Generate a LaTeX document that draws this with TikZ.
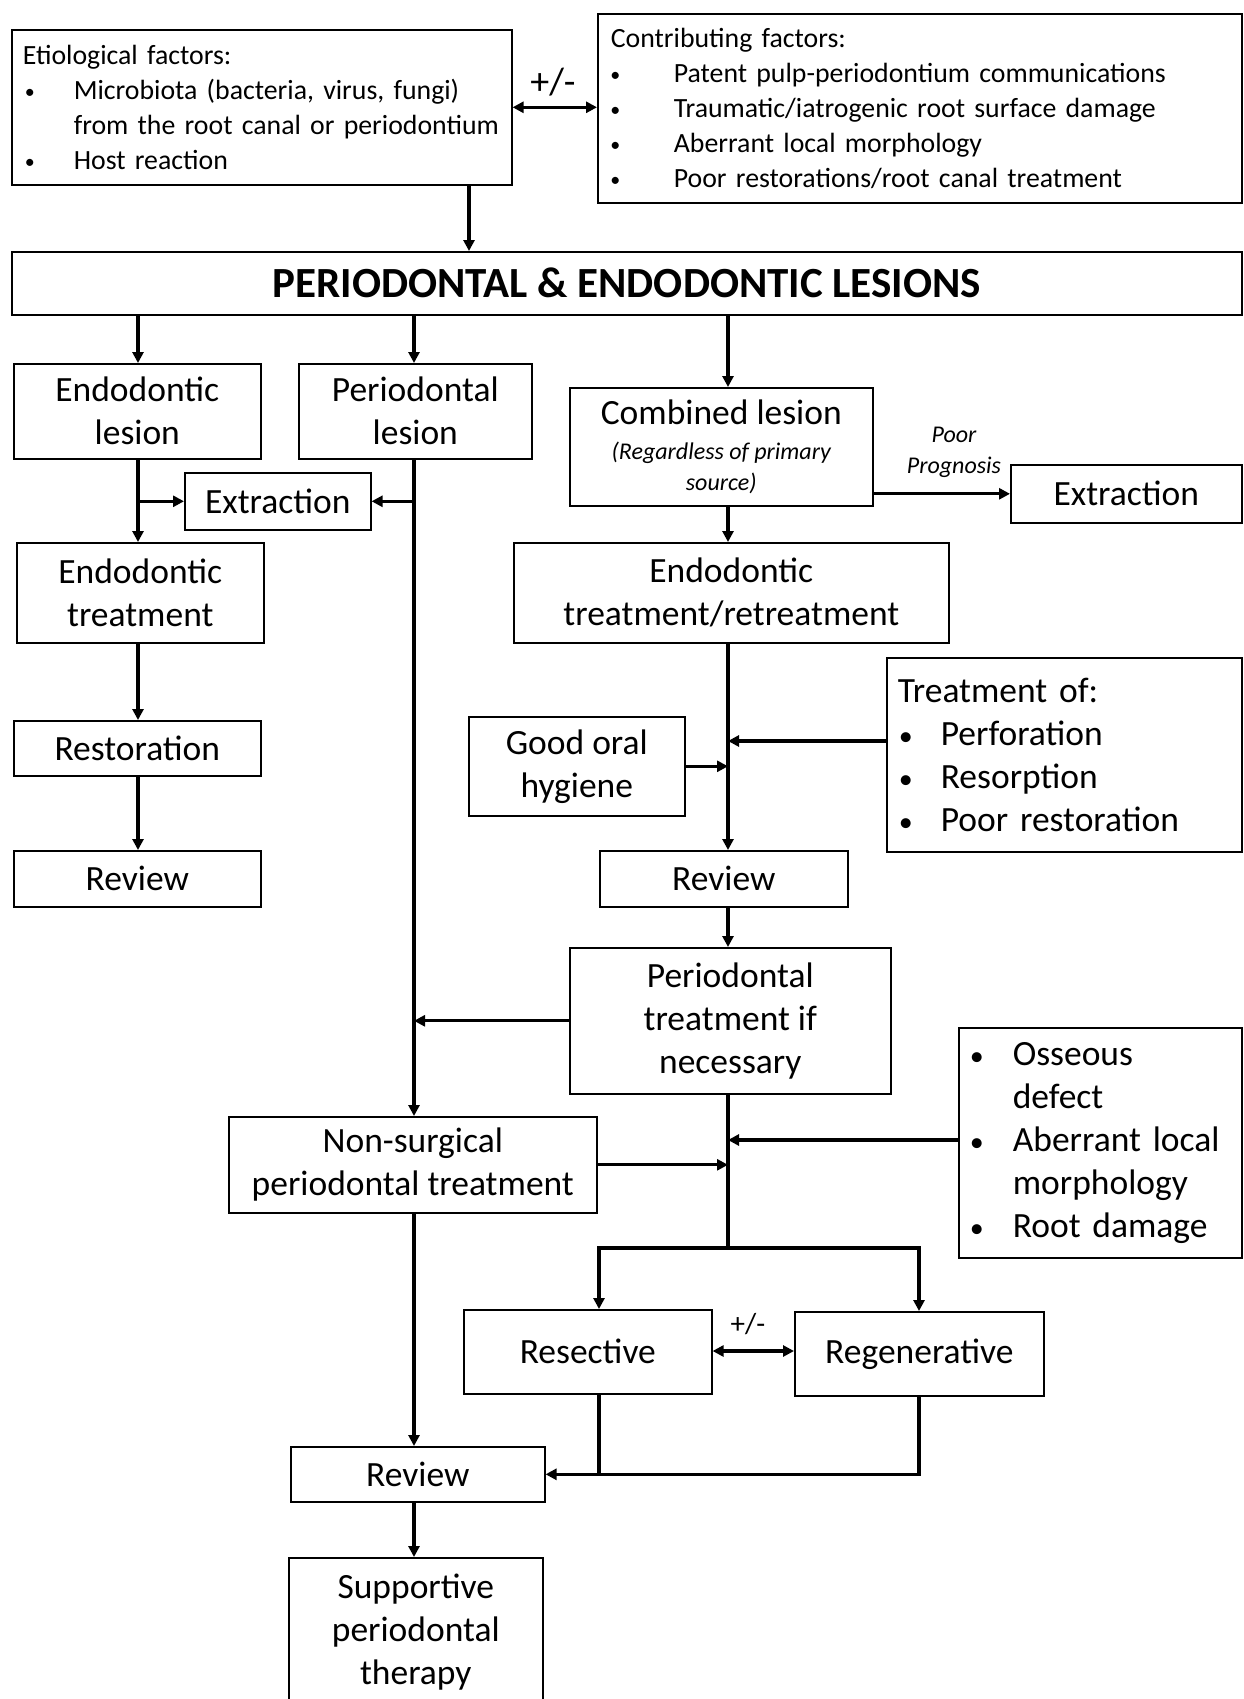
\documentclass[tikz,border=0pt]{standalone}
\usepackage{fontspec}
\setmainfont{Carlito}
\usetikzlibrary{arrows.meta,calc}
\newcommand\myfs[2]{\fontsize{#1}{#2}\selectfont}
% small bullet for 28pt lists, larger for 35pt lists
\newcommand\sbul{\raisebox{1pt}{\myfs{20}{20}\textbullet}}
\newcommand\lbul{\raisebox{0pt}{\myfs{28}{28}\textbullet}}
% #1 bullet centre offset, #2 text offset, #3 bullet
\newcommand\li[3]{\hspace*{#1pt}\makebox[0pt]{#3}\hspace*{\dimexpr #2pt-#1pt\relax}}
\newcommand\bx[7]{\node[box,#6,minimum width={#4-#2},minimum height={#5-#3},anchor=north west] (#1) at (#2,#3) {#7};}
\begin{document}
\begin{tikzpicture}[x=1pt,y=-1pt,
  box/.style={draw, line width=1.6pt, inner sep=0pt, align=center, font=\myfs{35.5}{43}},
  listbox/.style={align=left},
  arr/.style={line width=3.2pt, -{Triangle[length=11pt,width=11pt]}},
  ln/.style={line width=3.2pt},
  darr/.style={line width=3.2pt, {Triangle[length=11pt,width=11pt]}-{Triangle[length=11pt,width=11pt]}},
  lbl/.style={inner sep=0pt}]
\fill[white] (0,0) rectangle (1243,1699);
\useasboundingbox (0,0) rectangle (1243,1699);

% column coordinates
\coordinate (xE) at (469,0);
\coordinate (xL) at (138,0);
\coordinate (xP) at (414,0);
\coordinate (xC) at (728,0);
\coordinate (xRes) at (599,0);
\coordinate (xReg) at (919,0);
\coordinate (ty) at (0,741);
\coordinate (oy) at (0,1140);
\coordinate (br) at (0,1248);
\coordinate (dy) at (0,1351);

% boxes
\bx{etio}{11}{29}{511}{184}{listbox, font=\myfs{27.8}{35}, inner xsep=11pt, text width=478pt}{\mbox{Etiological factors:}\\
\mbox{\li{7}{51}{\sbul}Microbiota (bacteria, virus, fungi)}\\
\mbox{\hspace*{51pt}from the root canal or periodontium}\\
\mbox{\li{7}{51}{\sbul}Host reaction}}
\bx{contrib}{597}{13}{1241}{202}{listbox, font=\myfs{27.8}{35}, inner xsep=13pt, text width=618pt}{\mbox{Contributing factors:}\\
\mbox{\li{4.5}{63}{\sbul}Patent pulp-periodontium communications}\\
\mbox{\li{4.5}{63}{\sbul}Traumatic/iatrogenic root surface damage}\\
\mbox{\li{4.5}{63}{\sbul}Aberrant local morphology}\\
\mbox{\li{4.5}{63}{\sbul}Poor restorations/root canal treatment}}
\bx{main}{11}{251}{1241}{314}{font=\bfseries\myfs{43}{50}}{PERIODONTAL \& ENDODONTIC LESIONS}
\bx{endl}{13}{363}{260}{458}{}{Endodontic\\lesion}
\bx{perl}{298}{363}{531}{458}{}{Periodontal\\lesion}
\bx{comb}{569}{387}{872}{505}{}{Combined lesion\\[-8pt]{\itshape\myfs{24}{31}(Regardless of primary}\\[-12pt]{\itshape\myfs{24}{31}source)}}
\bx{extL}{184}{472}{370}{529}{}{Extraction}
\bx{endt}{16}{542}{263}{642}{}{Endodontic\\treatment}
\bx{endr}{513}{542}{948}{642}{}{Endodontic\\treatment/retreatment}
\bx{extR}{1010}{464}{1241}{522}{}{Extraction}
\bx{rest}{13}{720}{260}{775}{}{Restoration}
\bx{revL}{13}{850}{260}{906}{}{Review}
\bx{goh}{468}{716}{684}{815}{}{Good oral\\hygiene}
\bx{treat}{886}{657}{1241}{851}{listbox, inner xsep=11pt, text width=333pt}{\mbox{Treatment of:}\\
\mbox{\li{8}{43}{\lbul}Perforation}\\
\mbox{\li{8}{43}{\lbul}Resorption}\\
\mbox{\li{8}{43}{\lbul}Poor restoration}}
\bx{revM}{599}{850}{847}{906}{}{Review}
\bx{ptn}{569}{947}{890}{1093}{}{Periodontal\\treatment if\\necessary}
\bx{oss}{958}{1027}{1241}{1257}{listbox, inner xsep=15pt, text width=253pt}{\mbox{\li{3}{39}{\lbul}Osseous}\\
\mbox{\hspace*{39pt}defect}\\
\mbox{\li{3}{39}{\lbul}Aberrant local}\\
\mbox{\hspace*{39pt}morphology}\\
\mbox{\li{3}{39}{\lbul}Root damage}}
\bx{nons}{228}{1116}{596}{1212}{}{Non-surgical\\periodontal treatment}
\bx{res}{463}{1309}{711}{1393}{}{Resective}
\bx{reg}{794}{1311}{1043}{1395}{}{Regenerative}
\bx{revB}{290}{1446}{544}{1501}{}{Review}
\bx{sup}{288}{1557}{542}{1706}{}{Supportive\\periodontal\\therapy}

% labels
\node[lbl, font=\myfs{38}{44}] (pm1) at (553,82) {+/-};
\node[lbl, font=\myfs{29}{34}] (pm2) at (748,1324) {+/-};
\node[lbl, font=\itshape\myfs{24}{31}, align=center] (pp) at (954,452) {Poor\\Prognosis};

% connectors
\draw[darr] (etio.east) -- (etio.east -| contrib.west);
\draw[arr] (etio.south -| xE) -- (main.north -| xE);
\draw[arr] (main.south -| xL) -- (endl.north -| xL);
\draw[arr] (main.south -| xP) -- (perl.north -| xP);
\draw[arr] (main.south -| xC) -- (comb.north -| xC);
\draw[arr] (endl.south -| xL) -- (endt.north -| xL);
\draw[arr] (xL |- extL.west) -- (extL.west);
\draw[arr] (xP |- extL.east) -- (extL.east);
\draw[arr] (perl.south -| xP) -- (nons.north -| xP);
\draw[arr] (endt.south -| xL) -- (rest.north -| xL);
\draw[arr] (rest.south -| xL) -- (revL.north -| xL);
\draw[arr] (comb.east |- extR.west) -- (extR.west);
\draw[arr] (comb.south -| xC) -- (endr.north -| xC);
\draw[arr] (endr.south -| xC) -- (revM.north -| xC);
\draw[arr] (goh.east) -- (goh.east -| xC);
\draw[arr] (treat.west |- ty) -- (xC |- ty);
\draw[arr] (revM.south -| xC) -- (ptn.north -| xC);
\draw[arr] (ptn.west) -- (ptn.west -| xP);
\draw[arr] (ptn.south -| xC) -- (xC |- br) -| (res.north -| xRes);
\draw[arr] (xC |- br) -| (reg.north -| xReg);
\draw[arr] (nons.east) -- (nons.east -| xC);
\draw[arr] (oss.west |- oy) -- (xC |- oy);
\draw[darr] (res.east |- dy) -- (reg.west |- dy);
\draw[arr] (nons.south -| xP) -- (revB.north -| xP);
\draw[ln] (res.south -| xRes) -- (xRes |- revB.east);
\draw[arr] (reg.south -| xReg) |- (revB.east);
\draw[arr] (revB.south -| xP) -- (sup.north -| xP);
\end{tikzpicture}
\end{document}
